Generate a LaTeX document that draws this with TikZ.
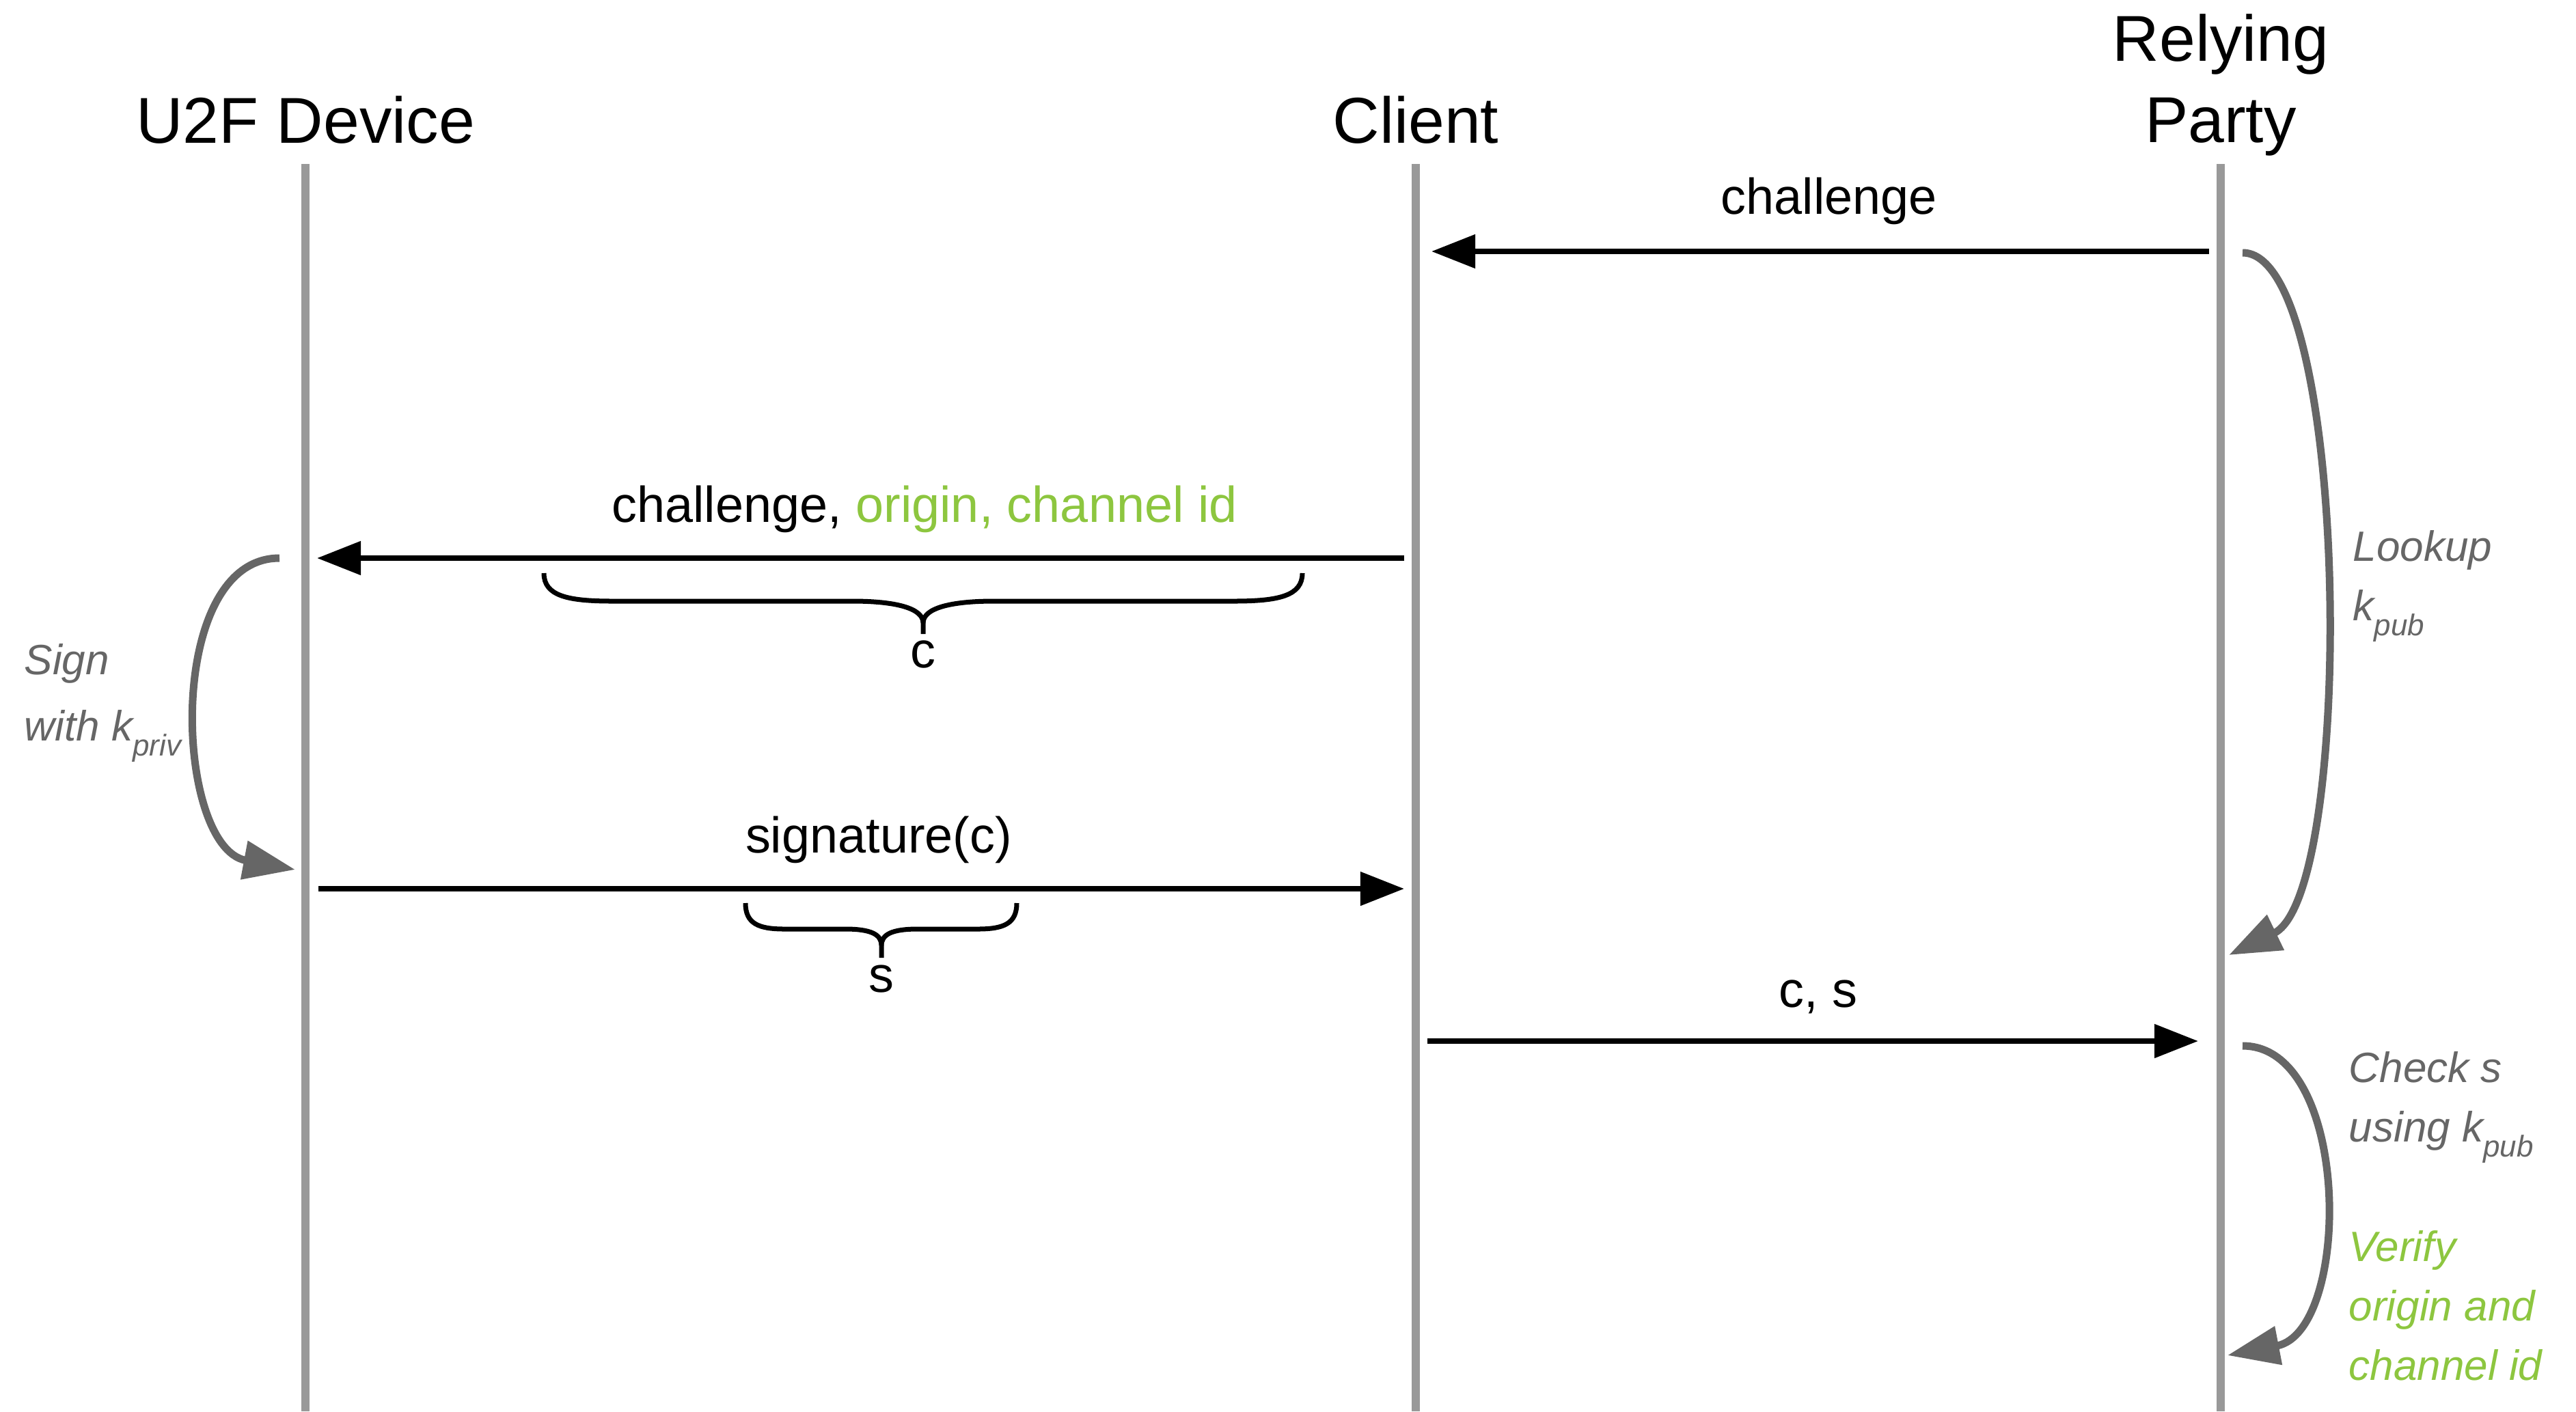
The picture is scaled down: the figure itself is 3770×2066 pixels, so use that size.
\documentclass[tikz,border=0pt]{standalone}
\usepackage{fontspec}
\setmainfont{Liberation Sans}
\usetikzlibrary{arrows.meta}
\definecolor{lifegray}{HTML}{999999}
\definecolor{curvegray}{HTML}{666666}
\definecolor{u2fgreen}{HTML}{8DC63F}
\newcommand\lowsub[1]{\raisebox{-0.22cm}{\fontsize{12.5pt}{14pt}\selectfont #1}}
\tikzset{
 header/.style={font=\fontsize{27pt}{34.1pt}\selectfont, inner sep=0pt, anchor=base},
 msglabel/.style={font=\fontsize{21pt}{25pt}\selectfont, inner sep=0pt, anchor=base},
 note/.style={font=\fontsize{17.64pt}{24.75pt}\selectfont\itshape, text=curvegray, inner sep=0pt, anchor=base west},
 greennote/.style={note, text=u2fgreen},
 lifeline/.style={draw=lifegray, line width=0.12cm},
 msg/.style={draw=black, line width=0.08cm, -{Triangle[length=0.64cm,width=0.48cm]}},
 selfarrow/.style={draw=curvegray, line width=0.11cm, -{Triangle[length=0.76cm,width=0.55cm]}},
 bracepath/.style={draw=black, line width=0.07cm},
}
\begin{document}
\begin{tikzpicture}[x=0.01cm, y=-0.01cm]
\useasboundingbox (0,0) rectangle (3770,2066);

% lifelines
\coordinate (devtop) at (447,240);   \coordinate (devbot) at (447,2066);
\coordinate (clitop) at (2072,240);  \coordinate (clibot) at (2072,2066);
\coordinate (rptop)  at (3250,240);  \coordinate (rpbot)  at (3250,2066);
\draw[lifeline] (devtop) -- (devbot);
\draw[lifeline] (clitop) -- (clibot);
\draw[lifeline] (rptop) -- (rpbot);

% headers
\node[header] (hdev) at (447,209) {U2F Device};
\node[header] (hcli) at (2072,209) {Client};
\node[header] (hrp) at (3250,89) {\begin{tabular}[t]{@{}c@{}}Relying\\Party\end{tabular}};

% message 1
\coordinate (m1s) at (3233,368); \coordinate (m1e) at (2095,368);
\draw[msg] (m1s) -- (m1e);
\node[msglabel] (l1) at (2677,313) {challenge};

% message 2
\coordinate (m2s) at (2055,817); \coordinate (m2e) at (464,817);
\draw[msg] (m2s) -- (m2e);
\node[msglabel] (l2) at (1353,764) {challenge, {\color{u2fgreen}origin, channel id}};

% brace c
\draw[bracepath] (796,839) .. controls (796,872) and (830,880) .. (896,880) -- (1247,880)
  .. controls (1310,880) and (1351,890) .. (1351,912) -- (1351,928);
\draw[bracepath] (1906,839) .. controls (1906,872) and (1872,880) .. (1806,880) -- (1455,880)
  .. controls (1392,880) and (1351,890) .. (1351,912);
\node[msglabel] (lc) at (1351,977) {c};

% message 3
\coordinate (m3s) at (466,1301); \coordinate (m3e) at (2055,1301);
\draw[msg] (m3s) -- (m3e);
\node[msglabel] (l3) at (1286,1248) {signature(c)};

% brace s
\draw[bracepath] (1091,1322) .. controls (1091,1352) and (1110,1360) .. (1148,1360) -- (1237,1360)
  .. controls (1275,1360) and (1290,1368) .. (1290,1384) -- (1290,1402);
\draw[bracepath] (1488,1322) .. controls (1488,1352) and (1469,1360) .. (1431,1360) -- (1343,1360)
  .. controls (1305,1360) and (1290,1368) .. (1290,1384);
\node[msglabel] (ls) at (1290,1452) {s};

% message 4
\coordinate (m4s) at (2089,1524); \coordinate (m4e) at (3217,1524);
\draw[msg] (m4s) -- (m4e);
\node[msglabel] (l4) at (2661,1474) {c, s};

% self arrows
\coordinate (sgs) at (409,817); \coordinate (sge) at (432,1273);
\draw[selfarrow] (sgs) .. controls (240,817) and (255,1240) .. (sge);
\coordinate (lks) at (3282,370); \coordinate (lke) at (3262,1398);
\draw[selfarrow] (lks) .. controls (3440,370) and (3448,1308) .. (lke);
\coordinate (cks) at (3282,1531); \coordinate (cke) at (3260,1984);
\draw[selfarrow] (cks) .. controls (3442,1531) and (3442,1949) .. (cke);

% notes
\node[note] (nsign) at (35,987) {\begin{tabular}[t]{@{}l@{}}Sign\\[0.1cm] with k\lowsub{priv}\end{tabular}};
\node[note] (nlook) at (3443,821) {\begin{tabular}[t]{@{}l@{}}Lookup\\ k\lowsub{pub}\end{tabular}};
\node[note] (ncheck) at (3437,1584) {\begin{tabular}[t]{@{}l@{}}Check s\\ using k\lowsub{pub}\end{tabular}};
\node[greennote] (nverify) at (3437,1846) {\begin{tabular}[t]{@{}l@{}}Verify\\ origin and\\ channel id\end{tabular}};
\end{tikzpicture}
\end{document}
